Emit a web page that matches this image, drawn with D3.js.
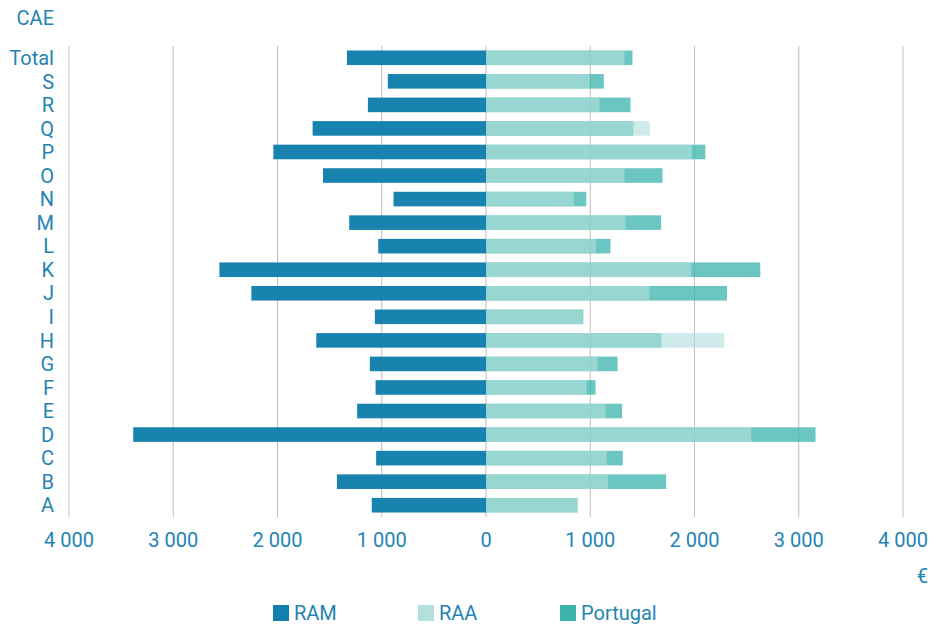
<!DOCTYPE html>
<html>
<head>
<meta charset="utf-8">
<script src="https://cdn.jsdelivr.net/npm/d3@7"></script>
<style>
  body { margin: 0; background: #fff; }
  text { font-family: Roboto, "Noto Sans", sans-serif; }
</style>
</head>
<body>
<div id="chart"></div>
<script>
const categories = ['Total', 'S', 'R', 'Q', 'P', 'O', 'N', 'M', 'L', 'K', 'J', 'I', 'H', 'G', 'F', 'E', 'D', 'C', 'B', 'A'];
const ram = [1334, 942, 1133, 1663, 2040, 1564, 887, 1312, 1034, 2557, 2251, 1066, 1628, 1114, 1059, 1236, 3384, 1054, 1430, 1096];
const raa = [1329, 996, 1089, 1571, 1973, 1329, 843, 1338, 1054, 1970, 1568, 933, 2286, 1070, 965, 1147, 2545, 1159, 1172, 878];
const portugal = [1405, 1130, 1386, 1415, 2104, 1693, 962, 1680, 1194, 2631, 2312, 933, 1683, 1262, 1051, 1306, 3161, 1312, 1728, 878];
const ticks = [-4000, -3000, -2000, -1000, 0, 1000, 2000, 3000, 4000];

const width = 944, height = 624;
const textColor = '#2384b4';
const colRAM = '#127fac', colRAA = '#b3e0dc', colPT = '#3db3ae';

const svg = d3.select('#chart').append('svg')
  .attr('width', width).attr('height', height);

const x = d3.scaleLinear().domain([-4000, 4000]).range([69, 903]);
const y = d3.scaleBand().domain(categories).range([46, 517])
  .paddingInner(0.38).paddingOuter(0.19);

// grid
svg.append('g').selectAll('line').data(ticks).enter().append('line')
  .attr('x1', d => x(d)).attr('x2', d => x(d))
  .attr('y1', 46).attr('y2', 517)
  .attr('stroke', d => Math.abs(d) === 4000 ? '#d4d4d4' : '#bdbdbd')
  .attr('stroke-width', d => Math.abs(d) === 4000 ? 1.5 : 1);

const rows = categories.map((c, i) => ({ c, ram: ram[i], raa: raa[i], pt: portugal[i] }));

// RAM (left)
svg.append('g').selectAll('rect').data(rows).enter().append('rect')
  .attr('x', d => x(-d.ram)).attr('width', d => x(0) - x(-d.ram))
  .attr('y', d => y(d.c)).attr('height', y.bandwidth())
  .attr('fill', colRAM).attr('fill-opacity', 0.97);

// Portugal (right, behind)
svg.append('g').selectAll('rect').data(rows).enter().append('rect')
  .attr('x', x(0)).attr('width', d => x(d.pt) - x(0))
  .attr('y', d => y(d.c)).attr('height', y.bandwidth())
  .attr('fill', colPT).attr('fill-opacity', 0.76);

// RAA (right, on top)
svg.append('g').selectAll('rect').data(rows).enter().append('rect')
  .attr('x', x(0)).attr('width', d => x(d.raa) - x(0))
  .attr('y', d => y(d.c)).attr('height', y.bandwidth())
  .attr('fill', colRAA).attr('fill-opacity', 0.63);

// category labels
svg.append('g').selectAll('text').data(categories).enter().append('text')
  .attr('x', 54).attr('y', d => y(d) + y.bandwidth() / 2)
  .attr('dy', '0.36em')
  .attr('text-anchor', 'end')
  .attr('font-size', 20).attr('fill', textColor)
  .text(d => d);

svg.append('text').attr('x', 54).attr('y', 25)
  .attr('text-anchor', 'end').attr('font-size', 20).attr('fill', textColor)
  .text('CAE');

// x tick labels
svg.append('g').selectAll('text').data(ticks).enter().append('text')
  .attr('x', d => x(d)).attr('y', 547)
  .attr('text-anchor', 'middle')
  .attr('font-size', 20).attr('fill', textColor)
  .text(d => d3.format(',')(Math.abs(d)).replace(/,/g, ' '));

svg.append('text').attr('x', 928).attr('y', 583)
  .attr('text-anchor', 'end').attr('font-size', 20).attr('fill', textColor)
  .text('€');

// legend
const legend = [
  { name: 'RAM', color: colRAM, x: 273 },
  { name: 'RAA', color: colRAA, x: 418 },
  { name: 'Portugal', color: colPT, x: 560 }
];
const lg = svg.append('g').selectAll('g').data(legend).enter().append('g')
  .attr('transform', d => `translate(${d.x},605)`);
lg.append('rect').attr('width', 16).attr('height', 16).attr('fill', d => d.color);
lg.append('text').attr('x', 21).attr('y', 15)
  .attr('font-size', 20).attr('fill', textColor)
  .text(d => d.name);
</script>
</body>
</html>
